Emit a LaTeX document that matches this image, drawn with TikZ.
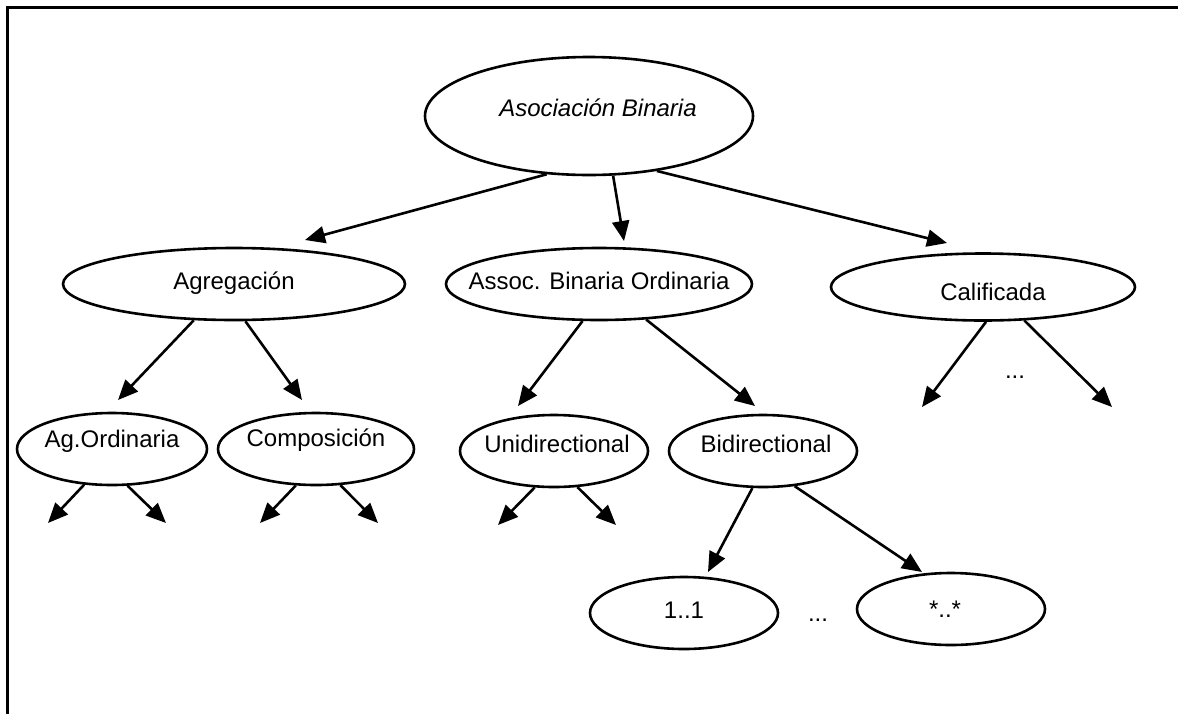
\documentclass[tikz,border=0pt]{standalone}
\usepackage{fontspec}
\setmainfont{Liberation Sans}
\usetikzlibrary{shapes.geometric,arrows.meta}
\begin{document}
\begin{tikzpicture}[x=1pt,y=-1pt,
  ell/.style={draw, ellipse, line width=2.6pt, inner sep=0pt},
  lbl/.style={font=\fontsize{24}{28}\selectfont},
  arr/.style={line width=2.6pt, -{Triangle[length=20pt,width=17pt]}}]
\useasboundingbox (0,0) rectangle (1178,713);
\clip (0,0) rectangle (1178,713);
\draw[line width=3pt] (7,720) -- (7,7) -- (1190,7);

% nodes
\node[ell, minimum width=328pt, minimum height=118pt,
  label={[lbl,xshift=9pt,yshift=8pt]center:\itshape Asociación Binaria}] (root) at (589,116) {};
\node[ell, minimum width=342pt, minimum height=72pt,
  label={[lbl,yshift=1pt]center:Agregación}] (agr) at (234,284) {};
\node[ell, minimum width=306pt, minimum height=72pt,
  label={[lbl,yshift=3pt]center:Assoc. Binaria Ordinaria}] (abo) at (599,284) {};
\node[ell, minimum width=304pt, minimum height=67pt,
  label={[lbl,xshift=10pt,yshift=-5pt]center:Calificada}] (cal) at (983,287) {};
\node[ell, minimum width=190pt, minimum height=72pt,
  label={[lbl,yshift=8pt]center:Ag.Ordinaria}] (agord) at (112,449) {};
\node[ell, minimum width=196pt, minimum height=72pt,
  label={[lbl,yshift=9pt]center:Composición}] (comp) at (316,449) {};
\node[ell, minimum width=188pt, minimum height=72pt,
  label={[lbl,xshift=3pt,yshift=7pt]center:Unidirectional}] (uni) at (554,451) {};
\node[ell, minimum width=188pt, minimum height=72pt,
  label={[lbl,xshift=3pt,yshift=7pt]center:Bidirectional}] (bid) at (763,451) {};
\node[ell, minimum width=188pt, minimum height=72pt,
  label={[lbl,yshift=3pt]center:1..1}] (one) at (684,613) {};
\node[ell, minimum width=188pt, minimum height=72pt,
  label={[lbl,xshift=-6pt]center:*..*}] (many) at (951,609) {};

\node[lbl] (dots1) at (1015,377) {...};
\node[lbl] (dots2) at (818,620) {...};

% arrow tips
\coordinate (tA) at (305,240);
\coordinate (tB) at (624,241);
\coordinate (tC) at (947,243);
\coordinate (tD) at (118,400);
\coordinate (tE) at (302,400);
\coordinate (tF) at (518,406);
\coordinate (tG) at (755,406);
\coordinate (tH) at (922,407);
\coordinate (tI) at (1112,407);
\coordinate (tJ) at (48,523);
\coordinate (tK) at (166,523);
\coordinate (tL) at (260,523);
\coordinate (tM) at (378,523);
\coordinate (tN) at (498,525);
\coordinate (tO) at (616,525);
\coordinate (tP) at (708,572);
\coordinate (tQ) at (922,572);

\draw[arr] (root.234) -- (tA);
\draw[arr] (root.292.5) -- (tB);
\draw[arr] (root.321.7) -- (tC);
\draw[arr] (agr.222) -- (tD);
\draw[arr] (agr.287) -- (tE);
\draw[arr] (abo.246.5) -- (tF);
\draw[arr] (abo.323.8) -- (tG);
\draw[arr] (cal.275) -- (tH);
\draw[arr] (cal.321.8) -- (tI);
\draw[arr] (agord.232) -- (tJ);
\draw[arr] (agord.293) -- (tK);
\draw[arr] (comp.241.7) -- (tL);
\draw[arr] (comp.304.5) -- (tM);
\draw[arr] (uni.242.9) -- (tN);
\draw[arr] (uni.303.4) -- (tO);
\draw[arr] (bid.254.4) -- (tP);
\draw[arr] (bid.312.4) -- (tQ);
\end{tikzpicture}
\end{document}
